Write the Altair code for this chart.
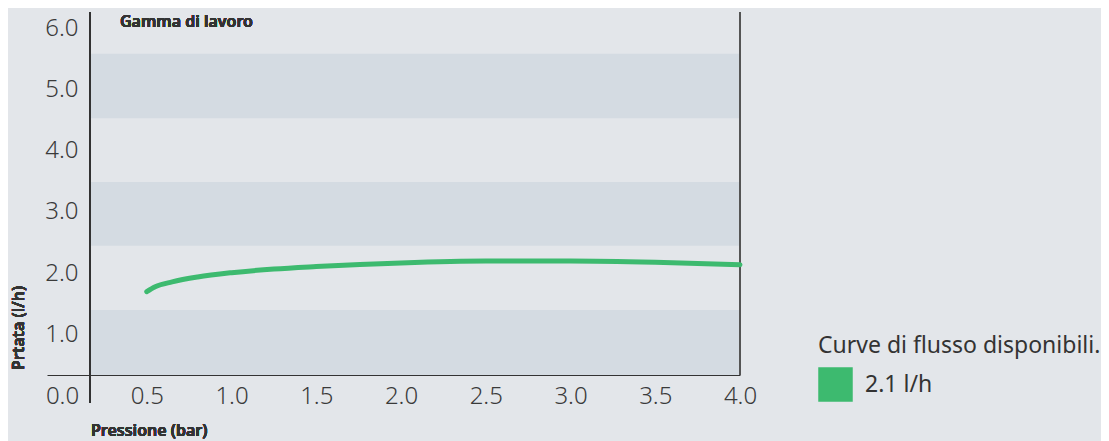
import altair as alt
import pandas as pd

# ---- data ----
pressure = [0.5, 0.55, 0.65, 0.8, 1.0, 1.25, 1.5, 2.0, 2.5, 3.0, 3.5, 4.0]
flow = [1.70, 1.78, 1.86, 1.94, 2.01, 2.07, 2.11, 2.17, 2.20, 2.20, 2.18, 2.14]
series_name = "2.1 l/h"

band_lo = [0.34, 2.45, 4.53]
band_hi = [1.40, 3.49, 5.58]
band_x0 = [0.165, 0.165, 0.165]
band_x1 = [4.0, 4.0, 4.0]

x_ticks = [0.0, 0.5, 1.0, 1.5, 2.0, 2.5, 3.0, 3.5, 4.0]
y_ticks = [1.0, 2.0, 3.0, 4.0, 5.0, 6.0]

X_DOMAIN = [-0.0885, 4.0]
Y_DOMAIN = [0.342, 6.261]

BG = "#e3e6ea"
BAND = "#d4dbe2"
GREEN = "#3dba6f"
TXT = "#333333"
FONT = "Noto Sans"

W, H = 693, 363

line_df = pd.DataFrame({"p": pressure, "f": flow, "s": [series_name] * len(pressure)})
band_df = pd.DataFrame({"x0": band_x0, "x1": band_x1, "lo": band_lo, "hi": band_hi})

xs = alt.Scale(domain=X_DOMAIN, nice=False, zero=False)
ys = alt.Scale(domain=Y_DOMAIN, nice=False, zero=False)

x_axis = alt.Axis(values=x_ticks, format=".1f", title=None, grid=False, ticks=False,
                  domain=True, domainColor=TXT, domainWidth=1, labelPadding=9,
                  labelFontSize=24, labelFont=FONT, labelFontWeight=300, labelColor="#3a3a3a",
                  labelFlush=False, labelOverlap=False, labelBound=False)
y_axis = alt.Axis(values=y_ticks, format=".1f", title=None, grid=False, ticks=False,
                  domain=False, offset=-43, labelPadding=12,
                  labelFontSize=24, labelFont=FONT, labelFontWeight=300, labelColor="#3a3a3a",
                  labelFlush=False, labelOverlap=False, labelBound=False)

bands = alt.Chart(band_df).mark_rect(color=BAND).encode(
    x=alt.X("x0:Q", scale=xs, axis=x_axis),
    x2="x1:Q",
    y=alt.Y("lo:Q", scale=ys, axis=y_axis),
    y2="hi:Q",
)

curve = alt.Chart(line_df).mark_line(strokeWidth=5, interpolate="monotone", strokeCap="round").encode(
    x=alt.X("p:Q", scale=xs, axis=x_axis),
    y=alt.Y("f:Q", scale=ys, axis=y_axis),
    color=alt.Color("s:N", scale=alt.Scale(domain=[series_name], range=[GREEN]),
                    legend=alt.Legend(title="Curve di flusso disponibili.", orient="none",
                                      legendX=771, legendY=323, padding=0,
                                      titleFont=FONT, titleFontSize=23, titleFontWeight="normal",
                                      titleColor=TXT, titlePadding=9, titleLimit=500,
                                      labelFont=FONT, labelFontSize=23, labelColor=TXT,
                                      labelOffset=12, labelLimit=300,
                                      symbolType="square", symbolSize=1190,
                                      symbolFillColor=GREEN, symbolStrokeColor=GREEN,
                                      symbolStrokeWidth=0, symbolOpacity=1)),
)

right_border = alt.Chart(line_df).mark_rule(color="#555555", strokeWidth=1.2).encode(
    x=alt.value(W), y=alt.value(0), y2=alt.value(H)
)
y_rule = alt.Chart(line_df).mark_rule(color=TXT, strokeWidth=1.2).encode(
    x=alt.value(43), y=alt.value(0), y2=alt.value(391)
)

t_gamma = alt.Chart(line_df).mark_text(text="Gamma di lavoro", font=FONT, fontSize=16, fontWeight=600,
                                       color=TXT, align="left", baseline="middle").encode(
    x=alt.value(73), y=alt.value(10))
t_x = alt.Chart(line_df).mark_text(text="Pressione (bar)", font=FONT, fontSize=16, fontWeight=600,
                                   color=TXT, align="left", baseline="middle").encode(
    x=alt.value(44), y=alt.value(419))
t_y = alt.Chart(line_df).mark_text(text="Prtata (l/h)", font=FONT, fontSize=16, fontWeight=600,
                                   color=TXT, align="center", baseline="middle", angle=270).encode(
    x=alt.value(-28), y=alt.value(316))

chart = alt.layer(bands, right_border, y_rule, curve, t_gamma, t_x, t_y).properties(
    width=W, height=H, background=BG,
    autosize=alt.AutoSizeParams(type="none"),
    padding={"left": 39, "top": 4, "right": 361, "bottom": 66},
).configure_view(stroke=None)

chart.save("out.html", embed_options={"renderer": "svg", "actions": False})
